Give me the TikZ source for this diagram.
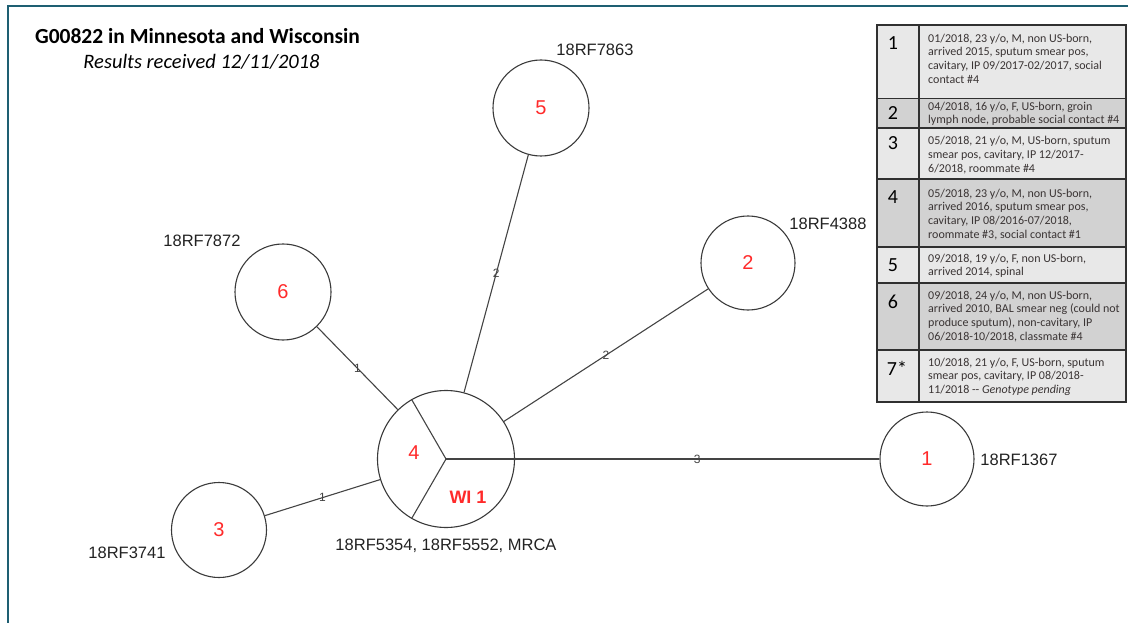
\documentclass[tikz,border=0pt]{standalone}
\usepackage{fontspec}
\setmainfont{Liberation Sans}
\newfontfamily\calibri{Carlito}
\definecolor{framebluegreen}{HTML}{1E5F72}
\definecolor{nodeline}{HTML}{3A3A3A}
\definecolor{linkgray}{HTML}{444444}
\definecolor{casered}{HTML}{FF2A2A}
\definecolor{idgray}{HTML}{222222}
\definecolor{rowlight}{HTML}{E8E8E8}
\definecolor{rowdark}{HTML}{D2D2D2}
\definecolor{tablerule}{HTML}{303030}
\definecolor{celltext}{HTML}{3A3434}
\begin{document}
\begin{tikzpicture}[x=1pt,y=-1pt,
  case/.style={circle, draw=nodeline, line width=1.1pt, inner sep=0pt,
    text=casered, font=\fontsize{20}{24}\selectfont},
  link/.style={draw=linkgray, line width=1.1pt},
  dist/.style={font=\fontsize{12}{12}\selectfont, text=linkgray, inner sep=0pt},
  caseid/.style={font=\fontsize{16.5}{18}\selectfont, text=idgray, inner sep=0pt, text depth=0pt},
  rownum/.style={font=\calibri\fontsize{20}{20}\selectfont, text=black, inner sep=0pt},
  rowtext/.style={font=\calibri\fontsize{12}{13.9}\selectfont, text=celltext,
    inner sep=0pt, align=left, anchor=north west},
  rule/.style={draw=tablerule, line width=1.4pt}]
\useasboundingbox (0,0) rectangle (1128,623);

% frame
\draw[framebluegreen, line width=2pt] (8,623) -- (8,6) -- (1128,6);

% title
\node[font=\calibri\bfseries\fontsize{21.5}{24}\selectfont, inner sep=0pt, text depth=0pt] (title) at (197.5,36) {G00822 in Minnesota and Wisconsin};
\node[font=\calibri\itshape\fontsize{20.5}{24}\selectfont, inner sep=0pt, text depth=0pt] (subtitle) at (201.5,61) {Results received 12/11/2018};

% cases
\node[case, minimum size=137pt] (n4) at (446,459) {};
\node[case, minimum size=96pt] (n5) at (541,108) {5};
\node[case, minimum size=94pt] (n2) at (748,263) {2};
\node[case, minimum size=96pt] (n6) at (283,292) {6};
\node[case, minimum size=94pt] (n1) at (927,459) {1};
\node[case, minimum size=95pt] (n3) at (219,530) {3};

% sectors of the mixed case
\draw[link] (n4.center) -- (n4.120);
\draw[link] (n4.center) -- (n4.240);
\draw[link] (n4.center) -- (n4.0);
\node[text=casered, font=\fontsize{20}{24}\selectfont, inner sep=0pt] (n4a) at (414,453) {4};
\node[text=casered, font=\bfseries\fontsize{18}{20}\selectfont, inner sep=0pt] (n4b) at (468,497) {WI 1};

% links with SNP distances
\draw[link] (n4) -- node[dist, pos=0.5] {2} (n5);
\draw[link] (n4) -- node[dist, pos=0.5] {2} (n2);
\draw[link] (n4) -- node[dist, pos=0.5] {1} (n6);
\draw[link] (n4) -- node[dist, pos=0.5] {1} (n3);
\draw[link] (n4) -- node[dist, pos=0.5] {3} (n1);

% isolate labels
\node[caseid] (id5) at (595,50) {18RF7863};
\node[caseid] (id2) at (828,224) {18RF4388};
\node[caseid] (id6) at (202,241) {18RF7872};
\node[caseid] (id1) at (1019,460) {18RF1367};
\node[caseid] (id3) at (127,553) {18RF3741};
\node[caseid] (id4) at (446,545) {18RF5354, 18RF5552, MRCA};

% case table
\fill[rowlight] (877,25) rectangle (1126,98.5);
\fill[rowdark]  (877,98.5) rectangle (1126,128);
\fill[rowlight] (877,128) rectangle (1126,179);
\fill[rowdark]  (877,179) rectangle (1126,247);
\fill[rowlight] (877,247) rectangle (1126,283);
\fill[rowdark]  (877,283) rectangle (1126,350);
\fill[rowlight] (877,350) rectangle (1126,402);
\foreach \yy in {98.5,128,179,247,283,350}
  \draw[rule] (877,\yy) -- (1126,\yy);
\draw[rule] (919,25) -- (919,402);
\draw[rule, line width=1.8pt] (877,25) rectangle (1126,402);

\node[rownum] (r1) at (893,43) {1};
\node[rownum] (r2) at (893,113) {2};
\node[rownum] (r3) at (893,143) {3};
\node[rownum] (r4) at (893,197) {4};
\node[rownum] (r5) at (893,265) {5};
\node[rownum] (r6) at (893,302) {6};
\node[rownum] (r7) at (897,368) {7*};

\node[rowtext] (t1) at (928,33.5) {01/2018, 23 y/o, M, non US-born,\\arrived 2015, sputum smear pos,\\cavitary, IP 09/2017-02/2017, social\\contact \#4};
\node[rowtext] (t2) at (928,101.5) {04/2018, 16 y/o, F, US-born, groin\\lymph node, probable social contact \#4};
\node[rowtext] (t3) at (928,136) {05/2018, 21 y/o, M, US-born, sputum\\smear pos, cavitary, IP 12/2017-\\6/2018, roommate \#4};
\node[rowtext] (t4) at (928,188.5) {05/2018, 23 y/o, M, non US-born,\\arrived 2016, sputum smear pos,\\cavitary, IP 08/2016-07/2018,\\roommate \#3, social contact \#1};
\node[rowtext] (t5) at (928,253.5) {09/2018, 19 y/o, F, non US-born,\\arrived 2014, spinal};
\node[rowtext] (t6) at (928,290.5) {09/2018, 24 y/o, M, non US-born,\\arrived 2010, BAL smear neg (could not\\produce sputum), non-cavitary, IP\\06/2018-10/2018, classmate \#4};
\node[rowtext] (t7) at (928,357.5) {10/2018, 21 y/o, F, US-born, sputum\\smear pos, cavitary, IP 08/2018-\\11/2018 -- \textit{Genotype pending}};
\end{tikzpicture}
\end{document}
